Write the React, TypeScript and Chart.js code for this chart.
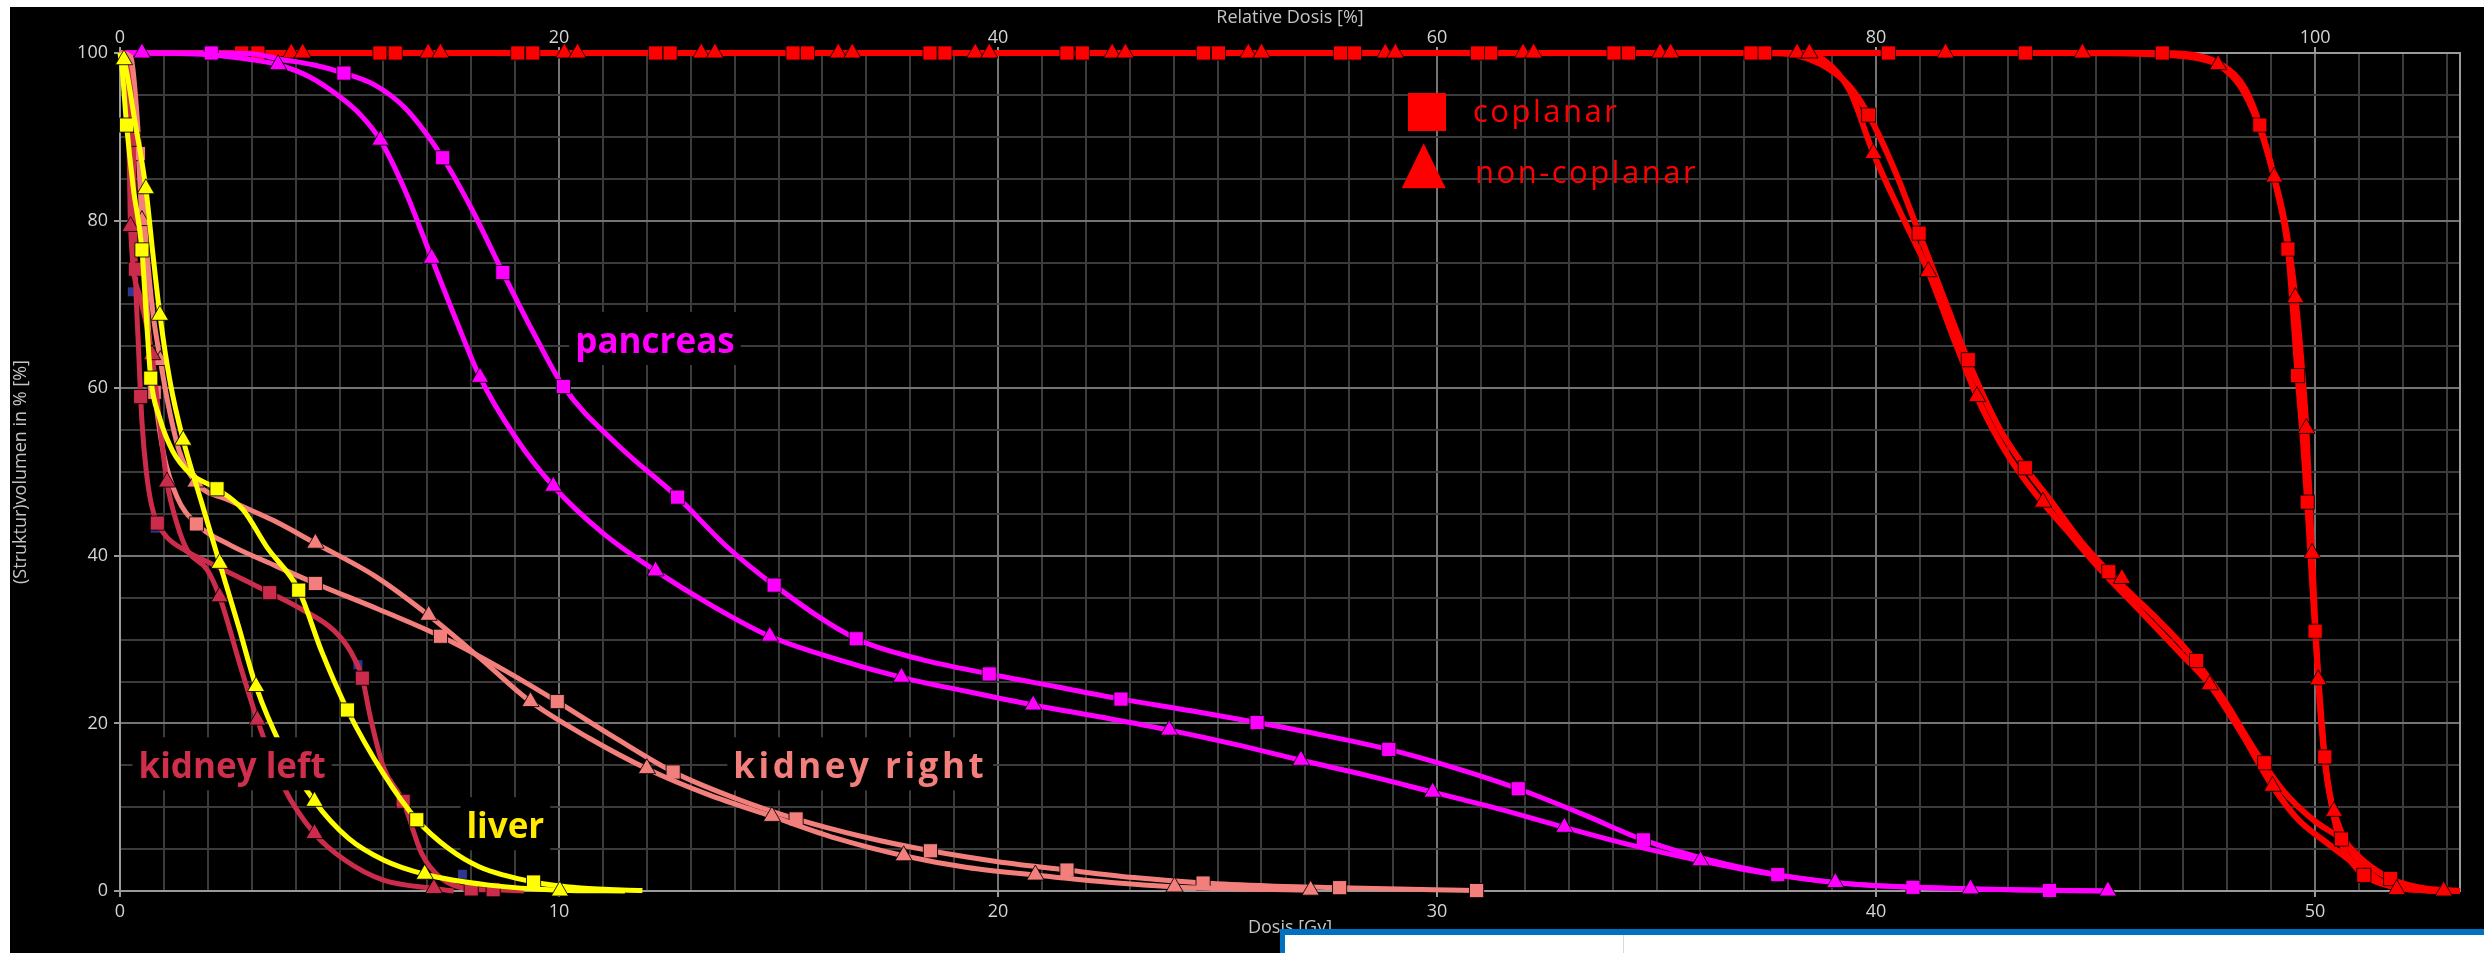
import React, { useEffect, useRef } from 'react';
import { Chart, registerables } from 'chart.js';

Chart.register(...registerables);

// ---------------- data (Dose in Gy, Volume in %) ----------------
const X_MAX = 53.3;
const REL_MAX = 106.6; // relative dose axis (50 Gy = 100 %)
const xTitle = 'Dosis [Gy]';
const x2Title = 'Relative Dosis [%]';
const yTitle = '(Struktur)volumen in % [%]';

type P = [number, number];

// pancreas
const pancreasCop: P[] = [[0,100],[2.08,100],[3.0,99.9],[3.7,99.2],[4.4,98.6],[5.1,97.6],[5.8,96.2],[6.5,93.4],[7.35,87.5],[8.0,81.5],[8.72,73.8],[9.4,66.8],[10.1,60.2],[11.3,53.4],[12.7,47],[13.8,41.2],[14.9,36.5],[16.77,30.1],[18.2,27.7],[19.8,25.9],[21.3,24.4],[22.8,22.9],[24.4,21.5],[25.9,20.1],[27.4,18.6],[28.9,16.9],[30.4,14.7],[31.85,12.2],[33.3,9.2],[34.7,6.1],[36.2,3.7],[37.76,1.95],[39.3,0.9],[40.84,0.44],[43.95,0.06],[45.3,0]];
const pancreasCopMarks: P[] = [[2.08,100],[5.1,97.6],[7.35,87.5],[8.72,73.8],[10.1,60.2],[12.7,47],[14.9,36.5],[16.77,30.1],[19.8,25.9],[22.8,22.9],[25.9,20.1],[28.9,16.9],[31.85,12.2],[34.7,6.1],[37.76,1.95],[40.84,0.44],[43.95,0.06]];
const pancreasNon: P[] = [[0,100],[0.5,100],[2.0,99.8],[3.0,99.2],[3.6,98.6],[4.3,97.2],[5.0,94.8],[5.5,92.5],[5.93,89.6],[6.5,83.5],[7.1,75.5],[7.65,68.2],[8.2,61.3],[9.0,54.2],[9.87,48.3],[11.0,42.7],[12.2,38.2],[13.5,34],[14.8,30.4],[16.3,27.7],[17.8,25.5],[19.3,23.8],[20.8,22.2],[22.4,20.7],[23.9,19.2],[25.4,17.5],[26.9,15.6],[28.4,13.8],[29.9,11.8],[31.4,9.8],[32.9,7.6],[34.4,5.5],[36.0,3.6],[37.5,2.1],[39.07,1.0],[40.6,0.5],[42.15,0.25],[45.28,0]];
const pancreasNonMarks: P[] = [[0.5,100],[3.6,98.6],[5.93,89.6],[7.1,75.5],[8.2,61.3],[9.87,48.3],[12.2,38.2],[14.8,30.4],[17.8,25.5],[20.8,22.2],[23.9,19.2],[26.9,15.6],[29.9,11.8],[32.9,7.6],[36.0,3.6],[39.07,1.0],[42.15,0.25],[45.28,0]];

// kidney right
const kidneyRCop: P[] = [[0,100],[0.2,99.5],[0.35,94],[0.5,80],[0.65,67],[0.8,59],[1.0,52],[1.3,47],[1.74,43.8],[2.5,41.3],[3.5,38.9],[4.45,36.7],[5.9,33.6],[7.3,30.4],[8.6,26.8],[9.96,22.6],[11.3,18.2],[12.6,14.2],[14.0,11.1],[15.4,8.6],[16.9,6.5],[18.46,4.8],[20.0,3.5],[21.57,2.5],[23.1,1.6],[24.67,0.95],[26.2,0.6],[27.78,0.4],[30.9,0.05]];
const kidneyRCopMarks: P[] = [[0.42,88],[0.78,59.5],[1.74,43.8],[4.45,36.7],[7.3,30.4],[9.96,22.6],[12.6,14.2],[15.4,8.6],[18.46,4.8],[21.57,2.5],[24.67,0.95],[27.78,0.4],[30.9,0.05]];
const kidneyRNon: P[] = [[0,100],[0.25,99.5],[0.45,88],[0.6,77],[0.75,69],[0.92,63.3],[1.1,58],[1.35,52.5],[1.72,48.8],[2.5,46.6],[3.5,44.2],[4.45,41.5],[5.8,37.6],[7.03,32.9],[8.2,27.8],[9.35,22.6],[10.7,18.2],[12.0,14.6],[13.4,11.5],[14.85,8.9],[16.3,6.3],[17.85,4.2],[19.3,2.8],[20.85,1.9],[22.4,1.1],[24.02,0.48],[25.5,0.25],[27.12,0.1]];
const kidneyRNonMarks: P[] = [[0.5,80],[0.92,63.3],[1.72,48.8],[4.45,41.5],[7.03,32.9],[9.35,22.6],[12.0,14.6],[14.85,8.9],[17.85,4.2],[20.85,1.9],[24.02,0.48],[27.12,0.1]];

// kidney left
const kidneyLCop: P[] = [[0,100],[0.2,97],[0.3,90],[0.35,74.2],[0.42,65],[0.5,56],[0.6,50],[0.72,46],[0.85,43.9],[1.07,42.2],[1.5,40.6],[2.06,39.1],[2.8,37.2],[3.41,35.6],[4.11,33.7],[4.87,31.1],[5.25,28.6],[5.52,25.4],[5.7,20.8],[6.0,14.8],[6.45,10.7],[6.87,4.5],[7.3,1.6],[8.0,0.25],[8.5,0.15],[9.2,0]];
const kidneyLCopMarks: P[] = [[0.31,89.7],[0.35,74.2],[0.47,59],[0.85,43.9],[3.41,35.6],[5.52,25.4],[6.45,10.7],[8.0,0.25],[8.5,0.15]];
const kidneyLNon: P[] = [[0,100],[0.1,98],[0.2,90],[0.24,79.3],[0.45,71],[0.73,64],[0.9,56],[1.07,48.8],[1.3,43.8],[1.53,40.7],[1.99,38.3],[2.27,35.1],[2.75,26.7],[3.13,20.4],[3.73,12.4],[4.43,6.85],[5.12,3.7],[6.0,1.3],[7.15,0.3],[7.6,0]];
const kidneyLNonMarks: P[] = [[0.24,79.3],[0.73,64],[1.07,48.8],[2.27,35.1],[3.13,20.4],[4.43,6.85],[7.15,0.3]];
const hiddenMarks: P[] = [[0.28,71.5],[0.8,43.3],[5.42,27.0],[7.8,2.0]];

// liver
const liverCop: P[] = [[0,100],[0.05,98],[0.15,91.4],[0.3,84],[0.5,76.5],[0.6,68.5],[0.7,61.2],[0.9,56.5],[1.2,52.5],[1.6,49.8],[2.21,48],[2.8,45.5],[3.35,41],[4.07,35.9],[4.6,28.5],[5.18,21.6],[6.0,14],[6.76,8.5],[7.5,5.0],[8.18,2.9],[9.42,1.07],[10.5,0.35],[11.9,0.05]];
const liverCopMarks: P[] = [[0.15,91.4],[0.5,76.5],[0.7,61.2],[2.21,48],[4.07,35.9],[5.18,21.6],[6.76,8.5],[9.42,1.07]];
const liverNon: P[] = [[0,100],[0.09,99.2],[0.35,91.5],[0.59,83.8],[0.75,76],[0.91,68.7],[1.15,60.5],[1.44,53.8],[1.85,46.5],[2.27,39.1],[2.7,31.6],[3.1,24.4],[3.7,17.0],[4.43,10.7],[5.2,6.3],[6.0,3.7],[6.94,2.0],[8.4,0.7],[10.02,0.1],[11.5,0]];
const liverNonMarks: P[] = [[0.09,99.2],[0.59,83.8],[0.91,68.7],[1.44,53.8],[2.27,39.1],[3.1,24.4],[4.43,10.7],[6.94,2.0],[10.02,0]];

// target volumes (red)
const ptvCop: P[] = [[0,100],[37.46,100],[38.2,99.7],[38.9,98.2],[39.4,96],[39.83,92.6],[40.4,86.3],[40.98,78.5],[41.6,70],[42.2,62],[42.8,55.3],[43.4,50.5],[44.0,46.4],[44.7,41.5],[45.5,37],[46.3,33],[47.1,28.6],[47.9,23],[48.6,17],[49.3,11.8],[50.0,8.3],[50.6,6.2],[51.1,3.6],[51.72,1.48],[52.4,0.4],[53.3,0]];
const ptvCopMarks: P[] = [[3.14,100],[6.27,100],[9.4,100],[12.53,100],[15.66,100],[18.79,100],[21.92,100],[25.02,100],[28.12,100],[31.22,100],[34.36,100],[37.46,100],[39.83,92.6],[40.98,78.5],[42.1,63.4],[43.4,50.5],[45.3,38.1],[47.3,27.5],[48.85,15.3],[50.6,6.2],[51.72,1.48]];
const ptvNon: P[] = [[0,100],[38.2,100],[38.8,99.2],[39.4,95.5],[39.94,88],[40.55,81],[41.19,73.9],[41.8,65.5],[42.4,57.8],[43.0,52],[43.6,47.6],[44.3,43.3],[45.0,39],[46.0,33.5],[47.0,28],[47.6,24.6],[48.3,19],[49.03,12.5],[49.6,8.6],[50.2,6.0],[50.8,3.6],[51.3,1.5],[51.86,0.4],[52.5,0.1],[52.93,0]];
const ptvNonMarks: P[] = [[3.9,100],[7.02,100],[10.12,100],[13.24,100],[16.36,100],[19.48,100],[22.6,100],[25.7,100],[28.82,100],[31.96,100],[35.08,100],[38.2,100],[39.94,88],[41.19,73.9],[42.3,59],[43.8,46.4],[45.6,37.3],[47.6,24.6],[49.03,12.5],[51.86,0.17]];
const ctvCop: P[] = [[0,100],[46.52,100],[47.3,99.7],[47.9,98.5],[48.4,95.8],[48.74,91.4],[49.1,84.3],[49.38,76.6],[49.5,69],[49.6,61.5],[49.72,54],[49.82,46.4],[49.91,38.7],[50.0,31],[50.1,23.5],[50.22,16],[50.4,9.5],[50.6,5.6],[50.85,3.3],[51.11,1.87],[51.5,0.9],[52.0,0.35],[52.6,0.1],[53.3,0]];
const ctvCopMarks: P[] = [[2.77,100],[5.92,100],[9.06,100],[12.2,100],[15.33,100],[18.45,100],[21.57,100],[24.68,100],[27.8,100],[30.92,100],[34.03,100],[37.15,100],[40.28,100],[43.4,100],[46.52,100],[48.74,91.4],[49.38,76.6],[49.6,61.5],[49.82,46.4],[50.0,31],[50.22,16],[51.11,1.87]];
const ctvNon: P[] = [[0,100],[44.7,100],[46.5,99.8],[47.3,99.4],[47.79,98.6],[48.3,96],[48.7,91.6],[49.07,85.2],[49.35,78.6],[49.55,70.8],[49.7,62.4],[49.8,55.2],[49.93,40.3],[50.07,25.2],[50.25,14.2],[50.43,9.5],[50.8,5],[51.3,1.9],[51.86,0.4],[52.5,0.1],[52.93,0]];
const ctvNonMarks: P[] = [[4.16,100],[7.3,100],[10.42,100],[13.55,100],[16.68,100],[19.8,100],[22.9,100],[26.0,100],[29.05,100],[32.2,100],[35.32,100],[38.48,100],[41.58,100],[44.7,100],[47.79,98.6],[49.07,85.2],[49.55,70.8],[49.8,55.2],[49.93,40.3],[50.07,25.2],[50.43,9.5],[52.93,0]];

// annotation labels (anchored at dose / volume of the text baseline start)
const labelTexts = ['pancreas', 'kidney right', 'kidney left', 'liver'];
const labelDose = [10.37, 13.97, 0.42, 7.89];
const labelVol = [64.2, 13.45, 13.45, 6.3];
const legendTexts = ['coplanar', 'non-coplanar'];

// ---------------- styles ----------------
const RED = '#ff0000';
const MAG = '#ff00ff';
const SAL = '#f27f7c';
const CRIM = '#cc2c4b';
const YEL = '#ffff00';
const NAVY = '#2b3790';
const labelColors = [MAG, SAL, '#cf2f4c', '#ffea00'];
const labelSpacing = ['0px', '3.5px', '0px', '0px'];
const FONT = '"Open Sans", "Noto Sans", sans-serif';
const MINOR = '#3b3b3b';
const MAJOR = '#747474';
const AXIS = '#9a9a9a';
const TICK_TXT = '#d4d4d4';

const toXY = (pts: P[]) => pts.map(([x, y]) => ({ x, y }));

function curve(label: string, pts: P[], color: string, width: number, order: number) {
  return {
    label, data: toXY(pts), borderColor: color, backgroundColor: color, borderWidth: width,
    pointRadius: 0, pointHoverRadius: 0, cubicInterpolationMode: 'monotone', fill: false, order, clip: false,
  };
}
function marks(label: string, pts: P[], color: string, style: string, order: number, r = 10) {
  return {
    label, data: toXY(pts), showLine: false, pointStyle: style, pointRadius: r, pointHoverRadius: r,
    pointBackgroundColor: color, pointBorderColor: 'rgba(0,0,0,0.85)', pointBorderWidth: 1,
    borderColor: color, backgroundColor: color, order, clip: false,
  };
}

const overlayPlugin = {
  id: 'overlayLabels',
  afterDatasetsDraw(chart: any) {
    const { ctx, chartArea, scales } = chart;
    const x = scales.x, y = scales.y;
    ctx.save();
    // structure labels with black boxes
    ctx.font = `bold 35px ${FONT}`;
    ctx.textBaseline = 'alphabetic';
    ctx.textAlign = 'left';
    labelTexts.forEach((t, i) => {
      (ctx as any).letterSpacing = labelSpacing[i];
      const px = x.getPixelForValue(labelDose[i]);
      const py = y.getPixelForValue(labelVol[i]);
      const w = ctx.measureText(t).width;
      ctx.fillStyle = '#000';
      ctx.fillRect(px - 6, py - 41, w + 12, 53);
      ctx.fillStyle = labelColors[i];
      ctx.fillText(t, px, py);
    });
    // legend
    const lx = chartArea.left, ly = chartArea.top;
    ctx.fillStyle = RED;
    ctx.fillRect(lx + 1288, ly + 40, 38, 38);
    ctx.beginPath();
    ctx.moveTo(lx + 1303.7, ly + 90.3);
    ctx.lineTo(lx + 1325.7, ly + 135.3);
    ctx.lineTo(lx + 1281.7, ly + 135.3);
    ctx.closePath();
    ctx.fill();
    ctx.font = `31px ${FONT}`;
    (ctx as any).letterSpacing = '2.5px';
    ctx.fillText(legendTexts[0], lx + 1353, ly + 68.7);
    ctx.fillText(legendTexts[1], lx + 1355, ly + 130.3);
    ctx.restore();
  },
};

export default function App() {
  const ref = useRef<HTMLCanvasElement | null>(null);
  useEffect(() => {
    if (!ref.current) return;
    const gridColor = (major: (v: number) => boolean) => (c: any) => (c.tick && major(c.tick.value) ? MAJOR : MINOR);
    const tickColor = (major: (v: number) => boolean) => (c: any) => (c.tick && major(c.tick.value) ? AXIS : 'rgba(0,0,0,0)');
    const isMajX = (v: number) => Math.abs(v % 10) < 1e-6;
    const isMajY = (v: number) => Math.abs(v % 20) < 1e-6;
    const chart = new Chart(ref.current, {
      type: 'line',
      data: {
        datasets: [
          marks('liver non-coplanar', liverNonMarks, YEL, 'triangle', 10),
          curve('liver non-coplanar line', liverNon, YEL, 5, 11),
          marks('liver coplanar', liverCopMarks, YEL, 'rect', 12),
          curve('liver coplanar line', liverCop, YEL, 5, 13),
          marks('kidney left non-coplanar', kidneyLNonMarks, CRIM, 'triangle', 20),
          curve('kidney left non-coplanar line', kidneyLNon, CRIM, 5, 21),
          marks('kidney left coplanar', kidneyLCopMarks, CRIM, 'rect', 22),
          curve('kidney left coplanar line', kidneyLCop, CRIM, 5, 23),
          marks('hidden', hiddenMarks, NAVY, 'rect', 24, 7),
          marks('kidney right non-coplanar', kidneyRNonMarks, SAL, 'triangle', 30),
          curve('kidney right non-coplanar line', kidneyRNon, SAL, 5, 31),
          marks('kidney right coplanar', kidneyRCopMarks, SAL, 'rect', 32),
          curve('kidney right coplanar line', kidneyRCop, SAL, 5, 33),
          marks('pancreas non-coplanar', pancreasNonMarks, MAG, 'triangle', 40),
          curve('pancreas non-coplanar line', pancreasNon, MAG, 5, 41),
          marks('pancreas coplanar', pancreasCopMarks, MAG, 'rect', 42),
          curve('pancreas coplanar line', pancreasCop, MAG, 5, 43),
          marks('ctv non-coplanar', ctvNonMarks, RED, 'triangle', 50),
          marks('ctv coplanar', ctvCopMarks, RED, 'rect', 51),
          marks('ptv non-coplanar', ptvNonMarks, RED, 'triangle', 52),
          marks('ptv coplanar', ptvCopMarks, RED, 'rect', 53),
          curve('ctv non-coplanar line', ctvNon, RED, 6, 54),
          curve('ctv coplanar line', ctvCop, RED, 6, 55),
          curve('ptv non-coplanar line', ptvNon, RED, 6, 56),
          curve('ptv coplanar line', ptvCop, RED, 6, 57),
        ] as any,
      },
      options: {
        animation: false,
        responsive: false,
        maintainAspectRatio: false,
        layout: { padding: 0 },
        events: [],
        plugins: { legend: { display: false }, tooltip: { enabled: false } },
        scales: {
          x: {
            type: 'linear', position: 'bottom', min: 0, max: X_MAX,
            ticks: {
              stepSize: 1, autoSkip: false, includeBounds: false, maxRotation: 0,
              callback: (v: any) => (isMajX(Number(v)) ? String(v) : ''),
              color: TICK_TXT, font: { family: FONT, size: 18 }, padding: 4,
            },
            grid: { color: gridColor(isMajX), lineWidth: 2, tickLength: 6, tickColor: tickColor(isMajX), tickWidth: 2 },
            border: { color: AXIS, width: 2 },
            title: { display: true, text: xTitle, color: '#c4c4c4', font: { family: FONT, size: 18 }, padding: { top: 0, bottom: 14 } },
            afterFit: (s: any) => { s.height = 62; },
          },
          x2: {
            type: 'linear', position: 'top', min: 0, max: REL_MAX,
            ticks: { stepSize: 20, includeBounds: false, maxRotation: 0, color: TICK_TXT, font: { family: FONT, size: 18 }, padding: -2 },
            grid: { drawOnChartArea: false, tickLength: 6, color: AXIS, lineWidth: 2 },
            border: { color: AXIS, width: 2 },
            title: { display: true, text: x2Title, color: '#c4c4c4', font: { family: FONT, size: 18 }, padding: { top: 0, bottom: 0 } },
            afterFit: (s: any) => { s.height = 46; },
          },
          y: {
            type: 'linear', position: 'left', min: 0, max: 100,
            ticks: {
              stepSize: 5, autoSkip: false, includeBounds: false,
              callback: (v: any) => (isMajY(Number(v)) ? String(v) : ''),
              color: TICK_TXT, font: { family: FONT, size: 18 }, padding: 6,
            },
            grid: { color: gridColor(isMajY), lineWidth: 2, tickLength: 6, tickColor: tickColor(isMajY), tickWidth: 2 },
            border: { color: AXIS, width: 2 },
            title: { display: true, text: yTitle, color: '#c4c4c4', font: { family: FONT, size: 18 }, padding: { top: 0, bottom: 0 } },
            afterFit: (s: any) => { s.width = 110; },
          },
          y2: {
            type: 'linear', position: 'right', min: 0, max: 100,
            ticks: { display: false },
            grid: { drawOnChartArea: false, drawTicks: false },
            border: { color: AXIS, width: 2 },
            afterFit: (s: any) => { s.width = 24; },
          },
        } as any,
      },
      plugins: [overlayPlugin],
    });
    return () => chart.destroy();
  }, []);

  return (
    <>
      <div style={{ position: 'fixed', left: 10, top: 7, width: 2474, height: 946, background: '#000' }}>
        <canvas ref={ref} width={2474} height={946} style={{ width: 2474, height: 946, display: 'block' }} />
      </div>
      <div style={{ position: 'fixed', left: 1280, top: 929, width: 1204, height: 24, background: '#fff', borderTop: '6px solid #0070c0', borderLeft: '5px solid #0070c0', boxSizing: 'border-box' }}>
        <div style={{ position: 'absolute', left: 338, top: 0, bottom: 0, width: 1, background: '#d9d9d9' }} />
      </div>
    </>
  );
}
